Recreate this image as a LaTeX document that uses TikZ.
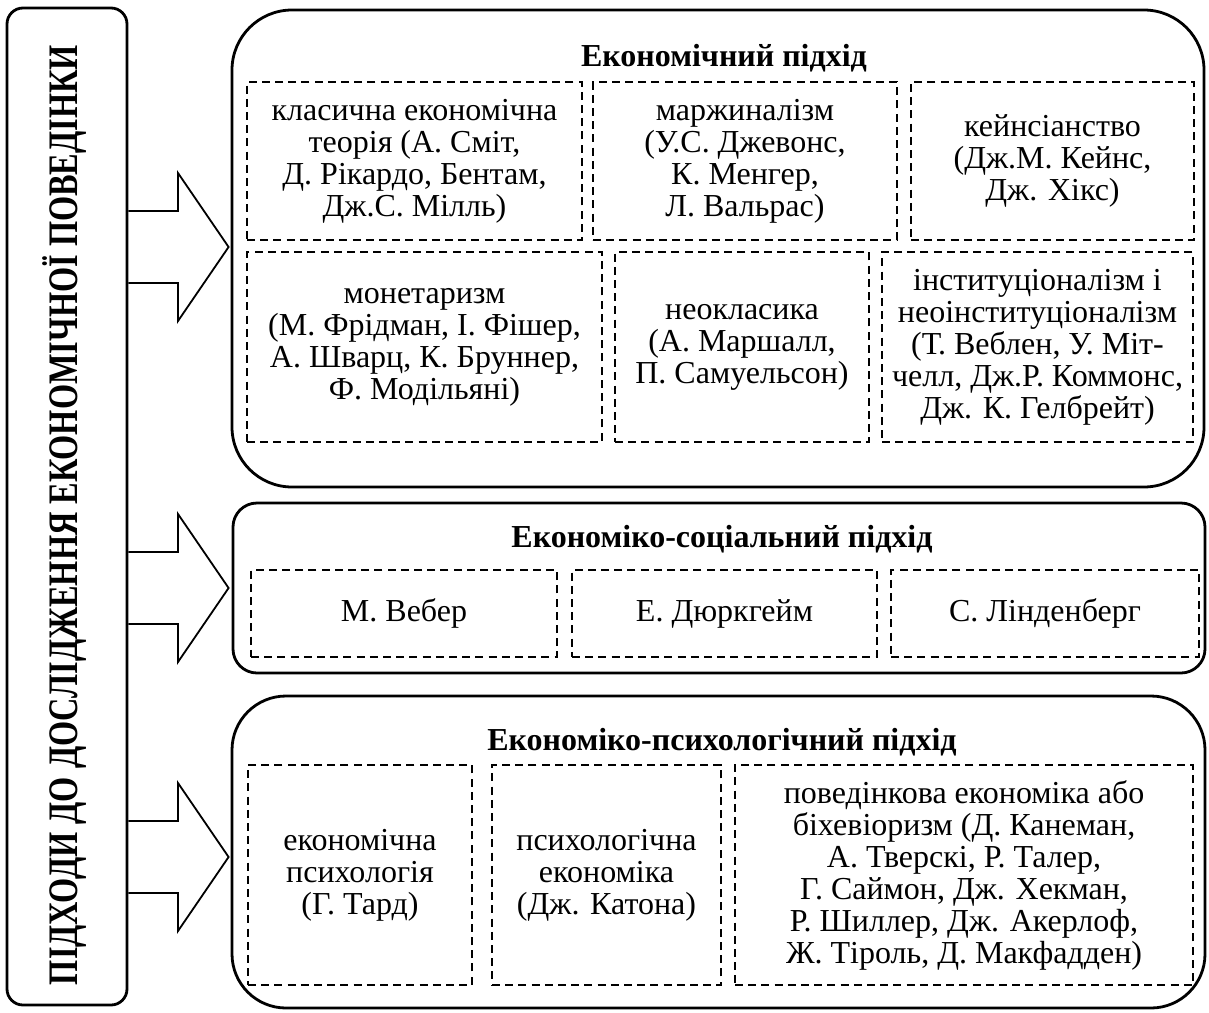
\documentclass[tikz,border=0pt]{standalone}
\usepackage{fontspec}
\setmainfont{Liberation Serif}
\usetikzlibrary{calc}
\begin{document}
\begin{tikzpicture}[x=0.5pt,y=-0.5pt,
  solidbox/.style={draw, line width=1.4pt, inner sep=0pt},
  dbox/.style={draw, dash pattern=on 4pt off 2.6pt, line width=0.8pt, align=center, inner sep=0pt, font=\fontsize{16}{16}\selectfont},
  titletext/.style={font=\fontsize{16}{16}\selectfont\bfseries, inner sep=0pt},
  barrow/.style={draw, line width=0.9pt, line join=miter}]
\useasboundingbox (0,0) rectangle (1209,1012);

% left vertical box
\node[solidbox, rounded corners=8pt, minimum width=60pt, minimum height=498.5pt] (left) at (67,506.5) {};
\node[rotate=90, inner sep=0pt] (lefttext) at (65,515)
  {\resizebox{470pt}{\height}{\fontsize{21}{21}\selectfont\bfseries ПІДХОДИ ДО ДОСЛІДЖЕННЯ ЕКОНОМІЧНОЇ ПОВЕДІНКИ}};

% big boxes
\node[solidbox, rounded corners=30pt, minimum width=486pt, minimum height=238.5pt] (econ) at (718,248.5) {};
\node[solidbox, rounded corners=12pt, minimum width=486pt, minimum height=85pt] (soc) at (719,588) {};
\node[solidbox, rounded corners=27pt, minimum width=486.5pt, minimum height=156pt] (psy) at (718.5,852) {};

% titles
\node[titletext] (econtitle) at (724,58) {Економічний підхід};
\node[titletext] (soctitle) at (722,539) {Економіко-соціальний підхід};
\node[titletext] (psytitle) at (722,742) {Економіко-психологічний підхід};

% economic inner boxes
\node[dbox, minimum width=167.5pt, minimum height=79pt] (a) at (414.5,161)
  {класична економічна\\теорія (А. Сміт,\\Д. Рікардо, Бентам,\\Дж.С. Мілль)};
\node[dbox, minimum width=152pt, minimum height=79pt] (b) at (745,161)
  {маржиналізм\\(У.С. Джевонс,\\К. Менгер,\\Л. Вальрас)};
\node[dbox, minimum width=141.5pt, minimum height=79pt] (c) at (1052.5,161)
  {кейнсіанство\\(Дж.М. Кейнс,\\Дж. Хікс)};
\node[dbox, minimum width=177.5pt, minimum height=95pt] (d) at (424.5,347)
  {монетаризм\\(М. Фрідман, І. Фішер,\\А. Шварц, К. Бруннер,\\Ф. Модільяні)};
\node[dbox, minimum width=127pt, minimum height=95pt] (e) at (742,347)
  {неокласика\\(А. Маршалл,\\П. Самуельсон)};
\node[dbox, minimum width=155.5pt, minimum height=95pt] (f) at (1037.5,347)
  {інституціоналізм і\\неоінституціоналізм\\(Т. Веблен, У. Міт-\\челл, Дж.Р. Коммонс,\\Дж. К. Гелбрейт)};

% social inner boxes
\node[dbox, minimum width=153pt, minimum height=43.5pt] (g) at (404,613.5) {М. Вебер};
\node[dbox, minimum width=152.5pt, minimum height=43.5pt] (h) at (724.5,613.5) {Е. Дюркгейм};
\node[dbox, minimum width=154pt, minimum height=43.5pt] (i) at (1045,613.5) {С. Лінденберг};

% psychological inner boxes
\node[dbox, minimum width=112pt, minimum height=110pt] (j) at (360,875)
  {економічна\\психологія\\(Г. Тард)};
\node[dbox, minimum width=114.5pt, minimum height=110pt] (k) at (606.5,875)
  {психологічна\\економіка\\(Дж. Катона)};
\node[dbox, minimum width=229pt, minimum height=110pt] (l) at (964,875)
  {поведінкова економіка або\\біхевіоризм (Д. Канеман,\\А. Тверскі, Р. Талер,\\Г. Саймон, Дж. Хекман,\\Р. Шиллер, Дж. Акерлоф,\\Ж. Тіроль, Д. Макфадден)};

% block arrows
\draw[barrow] (left.east |- 0,211) -- (178,211) -- (178,173) -- ($(econ.west |- 0,247)+(-2,0)$) -- (178,321) -- (178,283) -- (left.east |- 0,283);
\draw[barrow] (left.east |- 0,552) -- (178,552) -- (178,514) -- ($(soc.west |- 0,588)+(-3,0)$) -- (178,662) -- (178,624) -- (left.east |- 0,624);
\draw[barrow] (left.east |- 0,821) -- (178,821) -- (178,783) -- ($(psy.west |- 0,857)+(-2,0)$) -- (178,931) -- (178,893) -- (left.east |- 0,893);
\end{tikzpicture}
\end{document}
